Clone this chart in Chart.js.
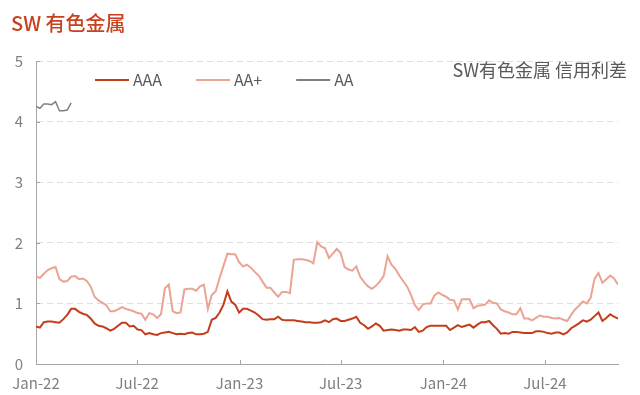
<!DOCTYPE html>
<html>
<head>
<meta charset="utf-8">
<script src="https://cdn.jsdelivr.net/npm/chart.js@4.4.0/dist/chart.umd.min.js"></script>
<style>
  html, body { margin: 0; padding: 0; background: #fff; }
  #wrap { width: 640px; height: 395px; }
</style>
</head>
<body>
<div id="wrap"><canvas id="spread" width="640" height="395"></canvas></div>
<script>
// weekly spreads (%), first week = early Jan 2022
const aaa = [
  0.62,0.60,0.69,0.70,0.70,0.69,0.68,0.74,0.81,0.91,
  0.91,0.86,0.83,0.81,0.75,0.67,0.63,0.62,0.59,0.55,
  0.58,0.63,0.68,0.68,0.62,0.63,0.57,0.56,0.49,0.51,
  0.49,0.48,0.51,0.52,0.53,0.51,0.49,0.50,0.49,0.51,
  0.52,0.49,0.49,0.50,0.53,0.73,0.76,0.85,0.98,1.20,
  1.03,0.98,0.85,0.91,0.91,0.88,0.85,0.80,0.74,0.73,
  0.74,0.74,0.78,0.73,0.72,0.72,0.72,0.71,0.70,0.69,
  0.69,0.68,0.68,0.69,0.72,0.69,0.74,0.75,0.71,0.71,
  0.73,0.75,0.78,0.68,0.64,0.58,0.62,0.67,0.63,0.55,
  0.56,0.57,0.56,0.55,0.57,0.57,0.56,0.61,0.53,0.55,
  0.61,0.63,0.63,0.63,0.63,0.63,0.56,0.60,0.64,0.61,
  0.63,0.65,0.60,0.65,0.69,0.69,0.71,0.64,0.58,0.50,
  0.51,0.50,0.53,0.53,0.52,0.51,0.51,0.51,0.54,0.54,
  0.53,0.51,0.50,0.52,0.52,0.49,0.52,0.59,0.63,0.67,
  0.72,0.70,0.73,0.79,0.85,0.71,0.76,0.82,0.78,0.75
];
const aaPlus = [
  1.45,1.42,1.49,1.55,1.58,1.60,1.40,1.36,1.37,1.44,
  1.45,1.40,1.41,1.37,1.28,1.11,1.05,1.01,0.97,0.87,
  0.87,0.90,0.94,0.91,0.89,0.87,0.84,0.83,0.73,0.84,
  0.82,0.76,0.82,1.25,1.31,0.87,0.84,0.85,1.23,1.24,
  1.24,1.21,1.28,1.31,0.91,1.14,1.20,1.42,1.62,1.82,
  1.81,1.81,1.68,1.61,1.64,1.59,1.52,1.46,1.36,1.26,
  1.26,1.18,1.11,1.19,1.19,1.17,1.72,1.73,1.73,1.72,
  1.70,1.66,2.01,1.94,1.91,1.75,1.82,1.90,1.83,1.60,
  1.56,1.54,1.61,1.44,1.35,1.28,1.24,1.29,1.36,1.45,
  1.78,1.64,1.57,1.46,1.37,1.28,1.14,0.97,0.89,0.98,
  1.00,1.00,1.13,1.18,1.14,1.11,1.06,1.05,0.90,1.07,
  1.07,1.07,0.92,0.96,0.97,0.98,1.05,1.01,1.00,0.90,
  0.87,0.85,0.82,0.82,0.92,0.75,0.75,0.72,0.76,0.80,
  0.78,0.78,0.76,0.75,0.76,0.73,0.71,0.81,0.90,0.96,
  1.03,1.00,1.09,1.41,1.50,1.34,1.40,1.46,1.41,1.31
];
const aa = [4.25,4.22,4.29,4.29,4.28,4.33,4.18,4.18,4.19,4.31];

const tickWeeks = [0, 25.9, 52.1, 78, 104.3, 130.3];
const tickLabels = ['Jan-22','Jul-22','Jan-23','Jul-23','Jan-24','Jul-24'];

const FONT = '"Noto Sans CJK SC", "Noto Sans", sans-serif';
const toPts = arr => arr.map((v, i) => ({ x: i, y: v }));

// title, note, legend and inward tick marks
const decor = {
  id: 'decor',
  afterDraw(chart) {
    const ctx = chart.ctx;
    const { x, y } = chart.scales;
    ctx.save();

    ctx.strokeStyle = '#a6a6a6';
    ctx.lineWidth = 1;
    y.ticks.forEach(t => {
      if (t.value === 0) return;
      const py = Math.round(y.getPixelForValue(t.value)) + 0.5;
      ctx.beginPath(); ctx.moveTo(x.left, py); ctx.lineTo(x.left + 4, py); ctx.stroke();
    });
    x.ticks.forEach(t => {
      if (t.value === 0) return;
      const px = Math.round(x.getPixelForValue(t.value)) + 0.5;
      ctx.beginPath(); ctx.moveTo(px, y.bottom); ctx.lineTo(px, y.bottom - 4); ctx.stroke();
    });

    ctx.textBaseline = 'middle';
    ctx.fillStyle = '#c8411e';
    ctx.font = '500 20px ' + FONT;
    ctx.textAlign = 'left';
    ctx.fillText('SW 有色金属', 11, 23);

    ctx.fillStyle = '#595959';
    ctx.font = '18px ' + FONT;
    ctx.textAlign = 'right';
    ctx.fillText('SW有色金属 信用利差', 627, 70);

    // legend
    ctx.font = '16px ' + FONT;
    ctx.textAlign = 'left';
    let lx = 95;
    const ly = 80;
    chart.data.datasets.forEach(ds => {
      ctx.strokeStyle = ds.borderColor;
      ctx.lineWidth = 2;
      ctx.beginPath(); ctx.moveTo(lx, ly); ctx.lineTo(lx + 34, ly); ctx.stroke();
      ctx.fillStyle = '#595959';
      ctx.fillText(ds.label, lx + 38, ly);
      lx += 38 + ctx.measureText(ds.label).width + 34;
    });
    ctx.restore();
  }
};

new Chart(document.getElementById('spread'), {
  type: 'line',
  data: {
    datasets: [
      { label: 'AAA', data: toPts(aaa), borderColor: '#c43d1b', borderWidth: 2 },
      { label: 'AA+', data: toPts(aaPlus), borderColor: '#eba393', borderWidth: 2 },
      { label: 'AA', data: toPts(aa), borderColor: '#808080', borderWidth: 1.5 }
    ]
  },
  options: {
    responsive: false,
    animation: false,
    events: [],
    elements: { point: { radius: 0 }, line: { tension: 0 } },
    layout: { padding: { top: 61, right: 22, left: 0, bottom: 0 } },
    plugins: { legend: { display: false }, tooltip: { enabled: false } },
    scales: {
      x: {
        type: 'linear',
        min: 0,
        max: 149,
        afterBuildTicks: axis => { axis.ticks = tickWeeks.map(v => ({ value: v })); },
        afterFit: s => { s.height = 31; },
        grid: { drawOnChartArea: false, drawTicks: false },
        border: { color: '#a6a6a6', width: 1 },
        ticks: {
          autoSkip: false, maxRotation: 0, padding: 10,
          color: '#7f7f7f', font: { family: FONT, size: 15 },
          callback: (v, i) => tickLabels[i]
        }
      },
      y: {
        min: 0,
        max: 5,
        afterFit: s => { s.width = 36; },
        grid: {
          drawTicks: false,
          color: c => c.tick.value === 0 ? 'rgba(0,0,0,0)' : '#dedede'
        },
        border: { color: '#a6a6a6', width: 1, dash: [6, 4] },
        ticks: {
          stepSize: 1, padding: 13,
          color: '#7f7f7f', font: { family: FONT, size: 15 }
        }
      }
    }
  },
  plugins: [decor]
});
</script>
</body>
</html>
